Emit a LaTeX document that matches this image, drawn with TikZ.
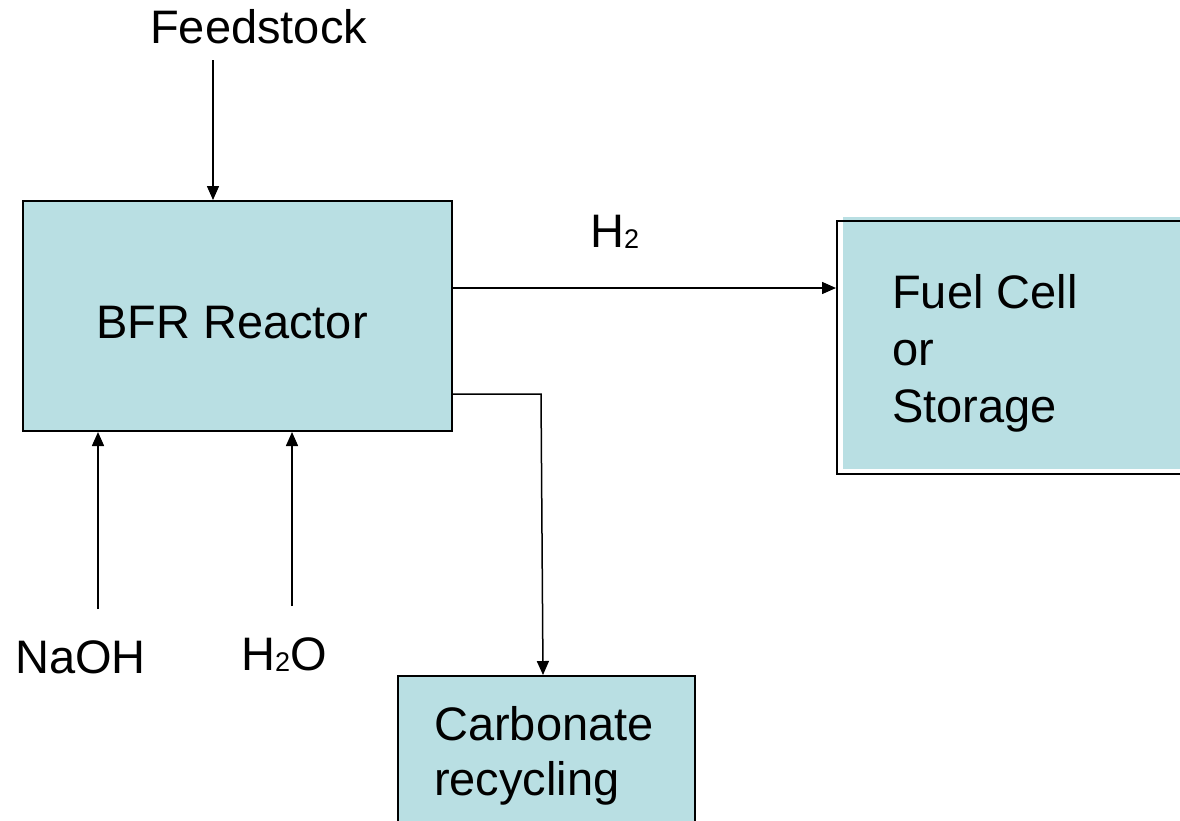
\documentclass[tikz,border=0pt]{standalone}
\usepackage{fontspec}
\setmainfont{Liberation Sans}
\usetikzlibrary{arrows.meta}
\definecolor{boxfill}{RGB}{185,223,227}
\newcommand{\bigtxt}{\fontsize{47}{57}\selectfont}
\newcommand{\subtwo}{\raisebox{-1pt}{\fontsize{27}{27}\selectfont 2}}
\begin{document}
\begin{tikzpicture}[x=1pt,y=-1pt,
  box/.style={draw=black, line width=2pt, fill=boxfill, inner sep=0pt, anchor=north west},
  lbl/.style={font=\bigtxt, inner sep=0pt, anchor=base west},
  flow/.style={line width=1.5pt, -{Triangle[length=14pt,width=12pt]}}]
\useasboundingbox (0,0) rectangle (1180,820);
% BFR reactor
\node[box, minimum width=429pt, minimum height=230pt] (bfr) at (22,200) {};
\node[lbl] (bfrtxt) at (96,338) {BFR Reactor};
% Feedstock
\node[lbl] (feed) at (150,43) {Feedstock};
\coordinate (feedin) at (213,60);
\draw[flow] (feedin) -- (feedin |- bfr.north);
% Fuel cell or storage
\fill[boxfill] (843,217) rectangle (1190,469);
\node[draw=black, line width=2pt, inner sep=0pt, anchor=north west,
      minimum width=354pt, minimum height=253pt] (fuel) at (836,220) {};
\node[lbl] (fuelA) at (892,308) {Fuel Cell};
\node[lbl] (fuelB) at (892,365) {or};
\node[lbl] (fuelC) at (892,422) {Storage};
% H2 flow
\node[lbl] (h2) at (590,247) {H\subtwo};
\draw[flow] (bfr.east |- 0,288) -- (fuel.west |- 0,288);
% Carbonate recycling
\node[box, minimum width=297pt, minimum height=160pt] (carb) at (397,675) {};
\node[lbl] (carbA) at (434,740) {Carbonate};
\node[lbl] (carbB) at (434,795) {recycling};
\coordinate (bend) at (541,394);
\draw[flow] (bfr.east |- bend) -- (bend) -- (543,0 |- carb.north);
% NaOH and H2O inputs
\node[lbl] (naoh) at (15,673) {NaOH};
\node[lbl] (h2o) at (241,670) {H\subtwo O};
\coordinate (naohin) at (98,609);
\coordinate (h2oin) at (292,606);
\draw[flow] (naohin) -- (naohin |- bfr.south);
\draw[flow] (h2oin) -- (h2oin |- bfr.south);
\end{tikzpicture}
\end{document}
